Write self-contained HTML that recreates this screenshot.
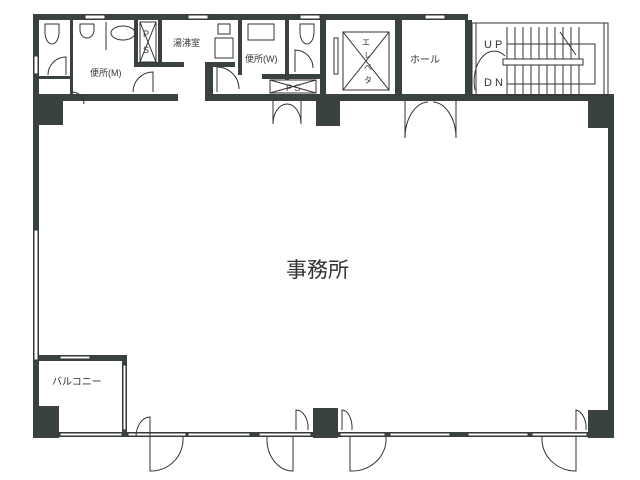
<!DOCTYPE html>
<html><head><meta charset="utf-8"><style>
html,body{margin:0;padding:0;background:#fff;width:640px;height:480px;overflow:hidden}
svg{display:block}
text{font-family:"Liberation Sans","Noto Sans CJK JP",sans-serif;fill:#333}
</style></head><body>
<svg width="640" height="480" viewBox="0 0 640 480" xmlns="http://www.w3.org/2000/svg">
<g fill="#3a4141" stroke="none">
<rect x="34" y="14" width="434" height="6"/>
<rect x="33" y="14" width="6" height="424"/>
<rect x="35" y="94" width="143" height="7"/>
<rect x="205" y="94" width="404" height="7"/>
<rect x="608" y="96" width="6" height="342"/>
<rect x="33" y="432" width="581" height="5"/>
<rect x="35" y="96" width="28" height="29"/>
<rect x="316" y="96" width="24" height="30"/>
<rect x="588" y="96" width="26" height="32"/>
<rect x="588" y="410" width="26" height="28"/>
<rect x="313" y="408" width="25" height="30"/>
<rect x="33" y="406" width="26" height="32"/>
<rect x="33" y="355" width="94" height="6"/>
<rect x="122" y="355" width="5" height="80"/>
<rect x="70" y="20" width="3" height="75"/>
<rect x="134" y="20" width="4" height="45"/>
<rect x="134" y="62" width="50" height="5"/>
<rect x="158" y="20" width="4" height="47"/>
<rect x="39" y="76" width="34" height="3"/>
<rect x="205" y="62" width="8" height="36"/>
<rect x="205" y="62" width="30" height="5"/>
<rect x="238" y="20" width="4" height="55"/>
<rect x="285" y="20" width="4" height="60"/>
<rect x="262" y="74" width="60" height="5"/>
<rect x="320" y="20" width="6" height="80"/>
<rect x="395" y="20" width="7" height="80"/>
<rect x="465" y="20" width="7" height="80"/>
<rect x="470" y="94" width="144" height="6"/>
</g>
<g fill="none" stroke="#333" stroke-width="1">
<rect x="85" y="15" width="20" height="4" fill="#fff"/>
<rect x="188" y="15" width="20" height="4" fill="#fff"/>
<rect x="300" y="15" width="20" height="4" fill="#fff"/>
<rect x="425" y="15" width="20" height="4" fill="#fff"/>
<rect x="34" y="230" width="4" height="130" fill="#fff"/>
<rect x="34" y="56" width="4" height="18" fill="#fff"/>
<rect x="60" y="433" width="62" height="3" fill="#fff"/>
<rect x="188" y="433" width="62" height="3" fill="#fff"/>
<rect x="390" y="433" width="60" height="3" fill="#fff"/>
<rect x="468" y="433" width="60" height="3" fill="#fff"/>
<rect x="128" y="433" width="58" height="3" fill="#fff"/>
<rect x="340" y="433" width="45" height="3" fill="#fff"/>
<rect x="532" y="433" width="55" height="3" fill="#fff"/>
<rect x="259" y="433" width="52" height="3" fill="#fff"/>
<rect x="60" y="356" width="30" height="3" fill="#fff"/>
<rect x="123" y="365" width="3" height="65" fill="#fff"/>
<path d="M45 24 h14 v8 a7 12 0 0 1 -14 0 z"/>
<path d="M80 24 h14 v6 a7 8 0 0 1 -14 0 z"/>
<ellipse cx="123" cy="33" rx="12" ry="7"/>
<line x1="106" y1="22" x2="106" y2="50"/>
<path d="M300 24 h14 v8 a7 12 0 0 1 -14 0 z"/>
<rect x="218" y="24" width="12" height="10"/>
<rect x="215" y="38" width="18" height="20"/>
<rect x="248" y="24" width="26" height="16"/>
<path d="M48 75 a18 18 0 0 1 18 -18 v18"/>
<path d="M133 92 a20 20 0 0 1 20 -20 v20"/>
<path d="M72 92 a12 12 0 0 1 12 12"/>
<path d="M217 92 v-25 a22 22 0 0 1 22 22"/>
<path d="M295 72 v-22 a18 18 0 0 1 18 18"/>
<rect x="140" y="22" width="16" height="40"/>
<path d="M140 22 L156 62 M156 22 L140 62"/>
<rect x="270" y="80" width="46" height="13"/>
<path d="M270 80 L316 93 M316 80 L270 93"/>
<path d="M273 101 v23 a14 20 0 0 1 14 -20 M301 101 v23 a14 20 0 0 0 -14 -20"/>
<rect x="343" y="32" width="46" height="58" fill="#fff"/>
<path d="M343 32 L389 90 M389 32 L343 90"/>
<rect x="334" y="38" width="4" height="36"/>
<path d="M405 101 v37 a24 36 0 0 1 23 -36 M456 101 v37 a24 36 0 0 0 -23 -36"/>
<rect x="472" y="23" width="136" height="72"/>
<path d="M476 23 V94 M604 23 V94"/>
<path d="M507 27 V94 M515 27 V94 M523 27 V94 M531 27 V94 M539 27 V94 M547 27 V94 M555 27 V94 M563 27 V94 M571 27 V94 M579 27 V94"/>
<path d="M507 44 H595 V84 H507"/>
<rect x="503" y="59" width="80" height="6" fill="#fff"/>
<path d="M560 32 L576 55"/>
<path d="M475 90 a20 30 0 0 1 30 -34"/>
<path d="M150 437 v34 a32 32 0 0 0 33 -34"/>
<path d="M150 437 v-20 a14 20 0 0 0 -14 20"/>
<path d="M293 437 v34 a26 32 0 0 1 -26 -34"/>
<path d="M296 430 v-20 a12 18 0 0 1 12 20"/>
<path d="M350 437 v34 a34 32 0 0 0 36 -34"/>
<path d="M342 430 v-20 a10 18 0 0 1 10 20"/>
<path d="M576 437 v34 a34 32 0 0 1 -34 -34"/>
<path d="M576 430 v-20 a12 18 0 0 1 10 20"/>
</g>
<text x="90" y="76" font-size="9">便所(M)</text>
<text x="173" y="46" font-size="9">湯沸室</text>
<text x="143" y="37" font-size="9">P</text>
<text x="143" y="53" font-size="9">S</text>
<text x="245" y="62" font-size="9">便所(W)</text>
<text x="286" y="91" font-size="9">P S</text>
<text x="410" y="63" font-size="10">ホール</text>
<text x="484" y="48" font-size="11">U P</text>
<text x="484" y="86" font-size="11">D N</text>
<text x="362" y="45" font-size="8">エ</text>
<text x="364" y="58" font-size="8">レ</text>
<text x="364" y="70" font-size="8">ベ</text>
<text x="364" y="83" font-size="8">タ</text>
<text x="52" y="385" font-size="10">バルコニー</text>
<text x="286" y="277" font-size="21">事務所</text>
</svg>
</body></html>
